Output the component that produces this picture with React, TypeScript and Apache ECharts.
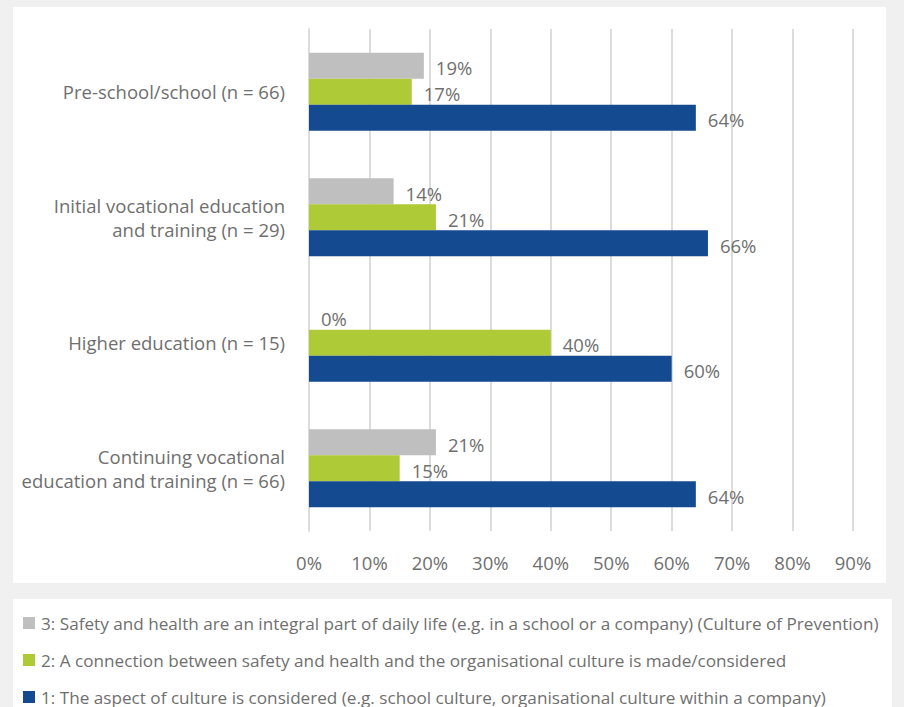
import React, { useEffect, useRef } from "react";
import * as echarts from "echarts";

const categories = [
  "Pre-school/school (n = 66)",
  "Initial vocational education\nand training (n = 29)",
  "Higher education (n = 15)",
  "Continuing vocational\neducation and training (n = 66)",
];
const seriesNames = [
  "3: Safety and health are an integral part of daily life (e.g. in a school or a company) (Culture of Prevention)",
  "2: A connection between safety and health and the organisational culture is made/considered",
  "1: The aspect of culture is considered (e.g. school culture, organisational culture within a company)",
];
const values3 = [19, 14, 0, 21];
const values2 = [17, 21, 40, 15];
const values1 = [64, 66, 60, 64];
const colors = ["#bfbfbf", "#afca37", "#144a90"];

const FONT = "Open Sans";
const TEXT = "#6f6f6f";

export default function App() {
  const ref = useRef<HTMLDivElement>(null);
  useEffect(() => {
    const chart = echarts.init(ref.current!, undefined, { renderer: "svg" });
    const mk = (name: string, data: number[], color: string) => ({
      name,
      type: "bar",
      data,
      itemStyle: { color },
      barGap: "0%",
      barCategoryGap: "38%",
      label: {
        show: true,
        position: "right",
        distance: 12,
        offset: [0, 2],
        formatter: "{c}%",
        color: TEXT,
        fontFamily: FONT,
        fontSize: 18.5,
      },
    });
    const legendTops = [614, 651, 688];
    chart.setOption({
      animation: false,
      backgroundColor: "#f0f0f0",
      textStyle: { fontFamily: FONT },
      graphic: [
        { type: "rect", left: 13, top: 7, shape: { width: 873, height: 576 }, style: { fill: "#ffffff" }, z: -10 },
        { type: "rect", left: 13, top: 599, shape: { width: 879, height: 120 }, style: { fill: "#ffffff" }, z: -10 },
      ],
      legend: seriesNames.map((n, i) => ({
        left: 23,
        top: legendTops[i],
        itemWidth: 12,
        itemHeight: 12,
        icon: "rect",
        selectedMode: false,
        data: [n],
        padding: 0,
        textStyle: { color: TEXT, fontFamily: FONT, fontSize: 17.15, lineHeight: 18, padding: [0, 0, 0, 1] },
      })),
      grid: { left: 309, right: 51, top: 29, bottom: 176, containLabel: false },
      xAxis: {
        type: "value",
        min: 0,
        max: 90,
        interval: 10,
        axisLine: { show: false },
        axisTick: { show: false },
        splitLine: { lineStyle: { color: "#dcdcdc", width: 2 } },
        axisLabel: { formatter: "{value}%", color: TEXT, fontFamily: FONT, fontSize: 18.5, margin: 22 },
      },
      yAxis: {
        type: "category",
        data: categories,
        inverse: true,
        axisLine: { show: true, lineStyle: { color: "#dcdcdc", width: 2 } },
        axisTick: { show: false },
        axisLabel: { color: TEXT, fontFamily: FONT, fontSize: 18.5, margin: 24, lineHeight: 24, align: "right" },
      },
      series: [mk(seriesNames[0], values3, colors[0]), mk(seriesNames[1], values2, colors[1]), mk(seriesNames[2], values1, colors[2])],
    });
    return () => chart.dispose();
  }, []);
  return <div ref={ref} style={{ position: "fixed", left: 0, top: 0, width: 904, height: 707 }} />;
}
